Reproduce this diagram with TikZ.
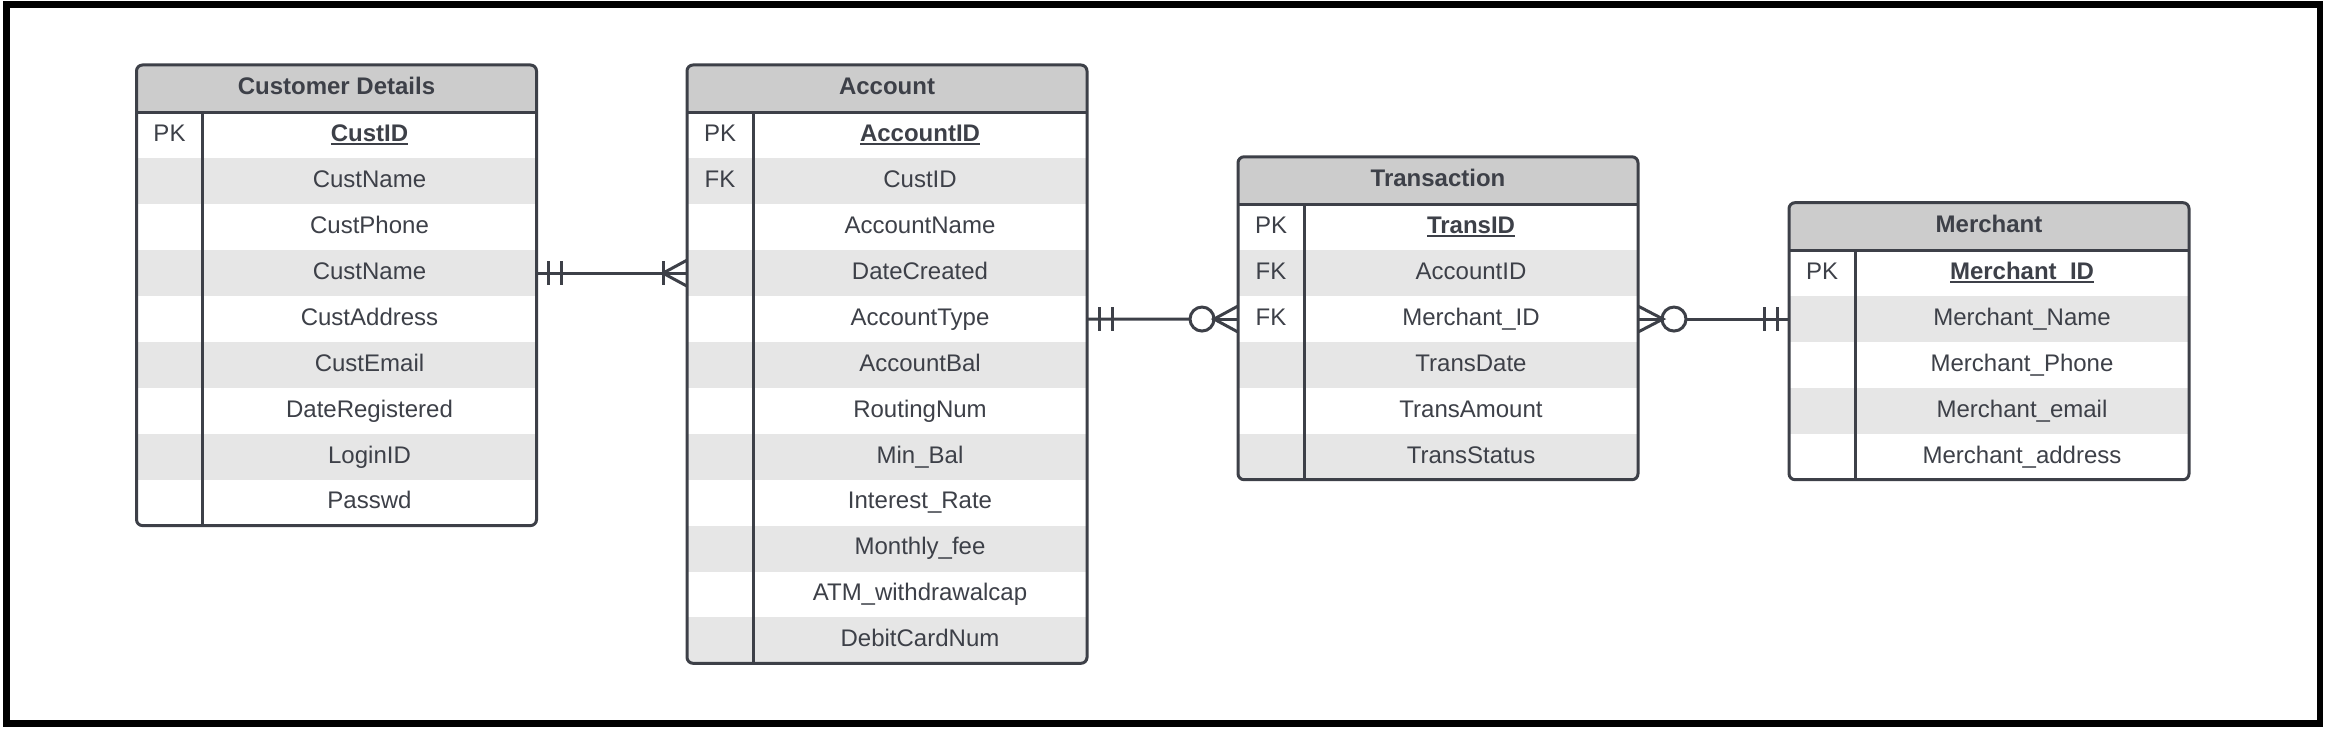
\documentclass[tikz,border=0pt]{standalone}
\usepackage{fontspec}
\setmainfont{Liberation Sans}
\usetikzlibrary{positioning}
\definecolor{ink}{RGB}{61,64,72}
\definecolor{hdrgray}{RGB}{204,204,204}
\definecolor{stripe}{RGB}{230,230,230}
\newcommand\tblfont{\fontsize{24}{28}\selectfont}
\newcommand\keyfld[1]{\setbox0\hbox{\bfseries #1}\rlap{\rule[-3.5pt]{\wd0}{2pt}}\box0}

\begin{document}
\begin{tikzpicture}[
  x=1pt, y=-1pt,
  every node/.style={inner sep=0pt, outer sep=0pt, text=ink, font=\tblfont,
                     text height=17.5pt, text depth=5pt},
  hdr/.style={rectangle, fill=hdrgray, minimum width=400pt,
              minimum height=47.5pt, font=\tblfont\bfseries},
  fld/.style={rectangle, minimum width=334pt, minimum height=45.9pt},
  keycell/.style={rectangle, minimum width=66pt, minimum height=45.9pt},
  rel/.style={draw=ink, line width=3pt},
]
\useasboundingbox (0,0) rectangle (2328,733);
\draw[line width=6.7pt] (6.7,4.6) rectangle (2320,723.5);

% Customer Details
\begin{scope}
  \clip[rounded corners=6pt] (136.5,65) rectangle ++(400,460.6);
  \node[hdr, anchor=north west] (cd-0) at (136.5,65) {Customer Details};
  \foreach \k/\f [count=\i] in {PK/\keyfld{CustID}, /CustName, /CustPhone, /CustName,
      /CustAddress, /CustEmail, /DateRegistered, /LoginID, /Passwd}{
    \pgfmathtruncatemacro\prev{\i-1}
    \ifodd\i\relax\def\rc{white}\else\def\rc{stripe}\fi
    \node[fld, fill=\rc, anchor=north east] (cd-\i) at (cd-\prev.south east) {\f};
    \node[keycell, fill=\rc, left=0pt of cd-\i] (cd-\i-k) {\k};
  }
\end{scope}
\draw[rel, rounded corners=6pt] (cd-0.north west) rectangle (cd-9.south east);
\draw[rel] (cd-0.south west) -- (cd-0.south east) (cd-1.north west) -- (cd-9.south west);

% Account
\begin{scope}
  \clip[rounded corners=6pt] (687,65) rectangle ++(400,598.3);
  \node[hdr, anchor=north west] (ac-0) at (687,65) {Account};
  \foreach \k/\f [count=\i] in {PK/\keyfld{AccountID}, FK/CustID, /AccountName,
      /DateCreated, /AccountType, /AccountBal, /RoutingNum, /Min\_Bal,
      /Interest\_Rate, /Monthly\_fee, /ATM\_withdrawalcap, /DebitCardNum}{
    \pgfmathtruncatemacro\prev{\i-1}
    \ifodd\i\relax\def\rc{white}\else\def\rc{stripe}\fi
    \node[fld, fill=\rc, anchor=north east] (ac-\i) at (ac-\prev.south east) {\f};
    \node[keycell, fill=\rc, left=0pt of ac-\i] (ac-\i-k) {\k};
  }
\end{scope}
\draw[rel, rounded corners=6pt] (ac-0.north west) rectangle (ac-12.south east);
\draw[rel] (ac-0.south west) -- (ac-0.south east) (ac-1.north west) -- (ac-12.south west);

% Transaction
\begin{scope}
  \clip[rounded corners=6pt] (1238,156.8) rectangle ++(400,322.9);
  \node[hdr, anchor=north west] (tr-0) at (1238,156.8) {Transaction};
  \foreach \k/\f [count=\i] in {PK/\keyfld{TransID}, FK/AccountID, FK/Merchant\_ID,
      /TransDate, /TransAmount, /TransStatus}{
    \pgfmathtruncatemacro\prev{\i-1}
    \ifodd\i\relax\def\rc{white}\else\def\rc{stripe}\fi
    \node[fld, fill=\rc, anchor=north east] (tr-\i) at (tr-\prev.south east) {\f};
    \node[keycell, fill=\rc, left=0pt of tr-\i] (tr-\i-k) {\k};
  }
\end{scope}
\draw[rel, rounded corners=6pt] (tr-0.north west) rectangle (tr-6.south east);
\draw[rel] (tr-0.south west) -- (tr-0.south east) (tr-1.north west) -- (tr-6.south west);

% Merchant
\begin{scope}
  \clip[rounded corners=6pt] (1789,202.7) rectangle ++(400,277);
  \node[hdr, anchor=north west] (mc-0) at (1789,202.7) {Merchant};
  \foreach \k/\f [count=\i] in {PK/\keyfld{Merchant\_ID}, /Merchant\_Name,
      /Merchant\_Phone, /Merchant\_email, /Merchant\_address}{
    \pgfmathtruncatemacro\prev{\i-1}
    \ifodd\i\relax\def\rc{white}\else\def\rc{stripe}\fi
    \node[fld, fill=\rc, anchor=north east] (mc-\i) at (mc-\prev.south east) {\f};
    \node[keycell, fill=\rc, left=0pt of mc-\i] (mc-\i-k) {\k};
  }
\end{scope}
\draw[rel, rounded corners=6pt] (mc-0.north west) rectangle (mc-5.south east);
\draw[rel] (mc-0.south west) -- (mc-0.south east) (mc-1.north west) -- (mc-5.south west);

% Customer -- Account (one to one-or-many)
\draw[rel] (cd-4.east) -- (ac-4-k.west);
\draw[rel] ([shift={(12,-12)}]cd-4.east) -- ++(0,24)
           ([shift={(25,-12)}]cd-4.east) -- ++(0,24);
\draw[rel] ([shift={(-24,-12)}]ac-4-k.west) -- ++(0,24);
\draw[rel] ([yshift=13pt]ac-4-k.west) -- ([xshift=-24pt]ac-4-k.west)
           -- ([yshift=-13pt]ac-4-k.west);

% Account -- Transaction (one to zero-or-many)
\draw[rel] (ac-5.east) -- ([xshift=-48pt]tr-3-k.west);
\draw[rel] ([shift={(12,-12)}]ac-5.east) -- ++(0,24)
           ([shift={(25,-12)}]ac-5.east) -- ++(0,24);
\draw[rel] ([xshift=-36pt]tr-3-k.west) circle (12);
\draw[rel] ([xshift=-24pt]tr-3-k.west) -- (tr-3-k.west);
\draw[rel] ([yshift=13pt]tr-3-k.west) -- ([xshift=-24pt]tr-3-k.west)
           -- ([yshift=-13pt]tr-3-k.west);

% Transaction -- Merchant (zero-or-many to one)
\draw[rel] (tr-3.east) -- ([xshift=25pt]tr-3.east);
\draw[rel] ([yshift=13pt]tr-3.east) -- ([xshift=25pt]tr-3.east)
           -- ([yshift=-13pt]tr-3.east);
\draw[rel] ([xshift=36pt]tr-3.east) circle (12);
\draw[rel] ([xshift=48pt]tr-3.east) -- (mc-2-k.west);
\draw[rel] ([shift={(-25,-12)}]mc-2-k.west) -- ++(0,24)
           ([shift={(-12,-12)}]mc-2-k.west) -- ++(0,24);
\end{tikzpicture}
\end{document}
